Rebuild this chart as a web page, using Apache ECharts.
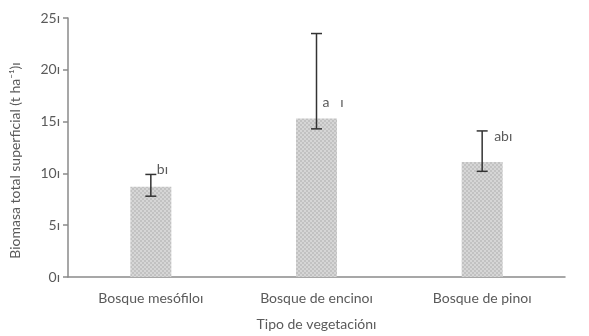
<!DOCTYPE html>
<html>
<head>
<meta charset="utf-8">
<script src="https://cdn.jsdelivr.net/npm/echarts@6/dist/echarts.min.js"></script>
<style>
  html, body { margin: 0; padding: 0; background: #fff; }
  #chart { width: 589px; height: 336px; }
</style>
</head>
<body>
<div id="chart"></div>
<script>
const categories = ['Bosque mesófiloı', 'Bosque de encinoı', 'Bosque de pinoı']
const means = [8.7, 15.3, 11.1]
const errLow = [7.8, 14.3, 10.2]
const errHigh = [9.9, 23.5, 14.1]
const letters = ['bı', 'a   ı', 'abı']
const letterY = [10.4, 16.8, 13.6]
const yTicks = [0, 5, 10, 15, 20, 25]

const FONT = 'Lato'
const TEXT = '#5a5a5a'
const AXIS = '#8a8a8a'

// checkered fill like the original print
const pat = document.createElement('canvas')
pat.width = 4
pat.height = 4
const pctx = pat.getContext('2d')
pctx.fillStyle = '#d6d6d6'
pctx.fillRect(0, 0, 4, 4)
pctx.fillStyle = '#c2c2c2'
pctx.fillRect(0, 0, 2, 2)
pctx.fillRect(2, 2, 2, 2)

const chart = echarts.init(document.getElementById('chart'), null, { renderer: 'canvas' })

chart.setOption({
    animation: false,
    textStyle: { fontFamily: FONT },
    grid: { left: 68, right: 24, top: 18, bottom: 58 },
    xAxis: {
        type: 'category',
        data: categories,
        name: 'Tipo de vegetaciónı',
        nameLocation: 'middle',
        nameGap: 40,
        nameTextStyle: { color: TEXT, fontSize: 14, fontFamily: FONT },
        axisLine: { lineStyle: { color: AXIS, width: 1.5 } },
        axisTick: { show: false },
        axisLabel: { color: TEXT, fontSize: 14, margin: 14, fontFamily: FONT },
    },
    yAxis: {
        type: 'value',
        min: 0,
        max: 25,
        interval: 5,
        name: 'Biomasa total superficial (t ha⁻¹)ı',
        nameLocation: 'middle',
        nameGap: 46,
        nameTextStyle: { color: TEXT, fontSize: 14, fontFamily: FONT, padding: [0, 26, 0, 0] },
        axisLine: { show: true, lineStyle: { color: AXIS, width: 1.5 } },
        axisTick: { show: true, length: 5, lineStyle: { color: AXIS, width: 1.5 } },
        splitLine: { show: false },
        axisLabel: {
            color: TEXT,
            fontSize: 14,
            margin: 8,
            fontFamily: FONT,
            formatter: v => (yTicks.includes(v) ? v + 'ı' : ''),
        },
    },
    series: [
        {
            type: 'bar',
            data: means,
            barWidth: 41,
            itemStyle: { color: { image: pat, repeat: 'repeat' } },
            silent: true,
        },
        {
            type: 'custom',
            data: categories.map((c, i) => [i, errLow[i], errHigh[i], letterY[i]]),
            renderItem: (params, api) => {
                const i = api.value(0)
                const lo = api.coord([i, api.value(1)])
                const hi = api.coord([i, api.value(2)])
                const lab = api.coord([i, api.value(3)])
                const x = lo[0]
                const cap = 5.5
                const st = { stroke: '#333', lineWidth: 1.5 }
                return {
                    type: 'group',
                    children: [
                        { type: 'line', shape: { x1: x, y1: lo[1], x2: x, y2: hi[1] }, style: st },
                        { type: 'line', shape: { x1: x - cap, y1: lo[1], x2: x + cap, y2: lo[1] }, style: st },
                        { type: 'line', shape: { x1: x - cap, y1: hi[1], x2: x + cap, y2: hi[1] }, style: st },
                        {
                            type: 'text',
                            style: {
                                x: x + (i === 2 ? 12 : 6),
                                y: lab[1],
                                text: letters[i],
                                fill: TEXT,
                                font: '14px ' + FONT,
                                verticalAlign: 'middle',
                            },
                        },
                    ],
                }
            },
            z: 3,
        },
    ],
})
</script>
</body>
</html>
